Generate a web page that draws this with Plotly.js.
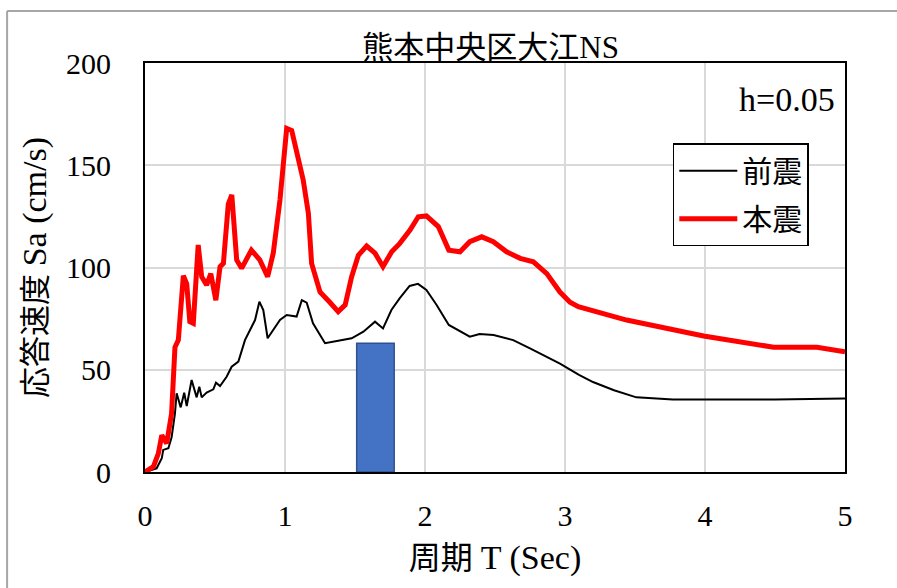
<!DOCTYPE html>
<html>
<head>
<meta charset="utf-8">
<script src="https://cdn.plot.ly/plotly-3.0.1.min.js"></script>
<style>html,body{margin:0;padding:0;background:#fff;}#chart{width:897px;height:588px;}</style>
</head>
<body>
<div id="chart"></div>
<script>
// Period T (s) and response velocity Sa (cm/s)
var mainT = [0, 0.06, 0.095, 0.12, 0.155, 0.19, 0.214, 0.238, 0.274, 0.298, 0.32, 0.345, 0.38, 0.405, 0.44, 0.47, 0.506, 0.536, 0.56, 0.595, 0.62, 0.655, 0.69, 0.76, 0.82, 0.876, 0.916, 0.964, 1.012, 1.048, 1.13, 1.167, 1.19, 1.25, 1.32, 1.38, 1.43, 1.476, 1.524, 1.583, 1.643, 1.70, 1.762, 1.82, 1.893, 1.952, 2.01, 2.095, 2.17, 2.25, 2.32, 2.405, 2.488, 2.583, 2.68, 2.774, 2.87, 2.964, 3.036, 3.095, 3.44, 3.99, 4.49, 4.80, 5.0];
var mainSa = [0, 2.6, 9, 18, 14, 28.7, 61, 64.5, 96, 92, 73.5, 72.7, 111, 95.5, 91.4, 97, 84, 100.4, 102, 131, 135.5, 103.7, 99.6, 108.5, 103.7, 95.5, 107, 133, 168, 167, 142.8, 126.5, 102, 88, 83, 78.4, 81.7, 95.5, 106, 110.5, 107, 100.4, 107.7, 111.8, 118.3, 124.8, 125.2, 120, 108.5, 107.7, 112.6, 115, 112.6, 107.7, 104.5, 102.8, 97, 88, 83, 80.8, 74.3, 66.5, 61, 61, 58.8];
var foreT = [0, 0.083, 0.12, 0.13, 0.167, 0.19, 0.214, 0.226, 0.255, 0.28, 0.298, 0.333, 0.369, 0.388, 0.405, 0.44, 0.488, 0.507, 0.536, 0.583, 0.619, 0.667, 0.714, 0.786, 0.817, 0.845, 0.876, 0.964, 1.012, 1.083, 1.12, 1.155, 1.20, 1.286, 1.38, 1.476, 1.56, 1.643, 1.70, 1.76, 1.82, 1.89, 1.95, 2.01, 2.083, 2.17, 2.32, 2.39, 2.49, 2.63, 2.75, 2.87, 2.964, 3.1, 3.2, 3.35, 3.51, 3.77, 4.5, 5.0];
var foreSa = [0, 1.8, 6.7, 10.8, 11.6, 17, 28.7, 38.5, 31.6, 38.8, 32.3, 45, 36.5, 41.7, 36.5, 38.8, 40.4, 43.7, 42, 46.6, 51.5, 54, 64.5, 74.3, 83.3, 79.2, 65.4, 74.3, 76.8, 76, 84, 82.8, 72.7, 63, 64.2, 65.4, 68.6, 73.5, 70.2, 79.2, 85, 91, 92, 89, 81.7, 71.9, 66.2, 67.5, 67, 64.5, 60.5, 56.4, 53, 47.5, 44, 40, 36.5, 35.5, 35.5, 36];
var seriesNames = ['前震', '本震'];
// highlighted band (bar)
var bandT = [1.646];
var bandSa = [63];
var bandWidth = 0.268;

var fontFam = 'Liberation Serif, Noto Sans CJK JP, serif';
var serifSpan = function (s, size) {
  return '<span style="font-family:Liberation Serif' + (size ? ';font-size:' + size + 'px' : '') + '">' + s + '</span>';
};

var traces = [
  {x: bandT, y: bandSa, type: 'bar', width: bandWidth, showlegend: false, hoverinfo: 'skip',
   marker: {color: '#4472C4', line: {color: '#2F528F', width: 1.5}}},
  {x: foreT, y: foreSa, type: 'scatter', mode: 'lines', name: seriesNames[0], legendgroup: 'a',
   line: {color: '#000000', width: 2}},
  {x: mainT, y: mainSa, type: 'scatter', mode: 'lines', name: seriesNames[1], legendgroup: 'b',
   line: {color: '#FF0000', width: 5}}
];

var layout = {
  width: 897, height: 588,
  margin: {l: 145, r: 52, t: 63, b: 116},
  paper_bgcolor: '#ffffff', plot_bgcolor: '#ffffff',
  font: {family: fontFam, size: 30, color: '#000'},
  title: {text: '熊本中央区大江' + serifSpan('NS'), x: 0.547, xanchor: 'center', y: 0.92, yanchor: 'middle',
          font: {family: fontFam, size: 31, color: '#000'}},
  xaxis: {range: [0, 5], dtick: 1, tick0: 0, showgrid: true, gridcolor: '#d9d9d9', gridwidth: 2,
          showline: true, linecolor: '#000', linewidth: 2, mirror: true, zeroline: false,
          ticks: '', ticklabelstandoff: 16,
          title: {text: '周期 ' + serifSpan('T (Sec)', 34), standoff: 16, font: {family: fontFam, size: 32}},
          tickfont: {family: fontFam, size: 30}},
  yaxis: {range: [0, 200], dtick: 50, tick0: 0, showgrid: true, gridcolor: '#d9d9d9', gridwidth: 2,
          showline: true, linecolor: '#000', linewidth: 2, mirror: true, zeroline: false,
          ticks: '', ticklabelstandoff: 26,
          title: {text: '応答速度 ' + serifSpan('Sa (cm/s)', 34), standoff: 10, font: {family: fontFam, size: 31}},
          tickfont: {family: fontFam, size: 30}},
  showlegend: true,
  legend: {x: 0.754, y: 0.804, xanchor: 'left', yanchor: 'top',
           bgcolor: '#ffffff', bordercolor: '#000', borderwidth: 1.5,
           font: {family: fontFam, size: 30, color: '#000'}, itemwidth: 58,
           traceorder: 'grouped', tracegroupgap: 6},
  annotations: [
    {text: 'h=0.05', xref: 'paper', yref: 'paper', x: 0.988, y: 0.91, xanchor: 'right', yanchor: 'middle',
     showarrow: false, font: {family: 'Liberation Serif, serif', size: 34, color: '#000'}}
  ],
  shapes: [
    {type: 'line', xref: 'paper', yref: 'paper', x0: -0.197, x1: -0.197, y0: -0.3, y1: 1.127,
     line: {color: '#a6a6a6', width: 2}},
    {type: 'line', xref: 'paper', yref: 'paper', x0: -0.197, x1: 1.1, y0: 1.127, y1: 1.127,
     line: {color: '#a6a6a6', width: 2}}
  ],
  bargap: 0
};

Plotly.newPlot('chart', traces, layout, {displayModeBar: false, staticPlot: true});
</script>
</body>
</html>
